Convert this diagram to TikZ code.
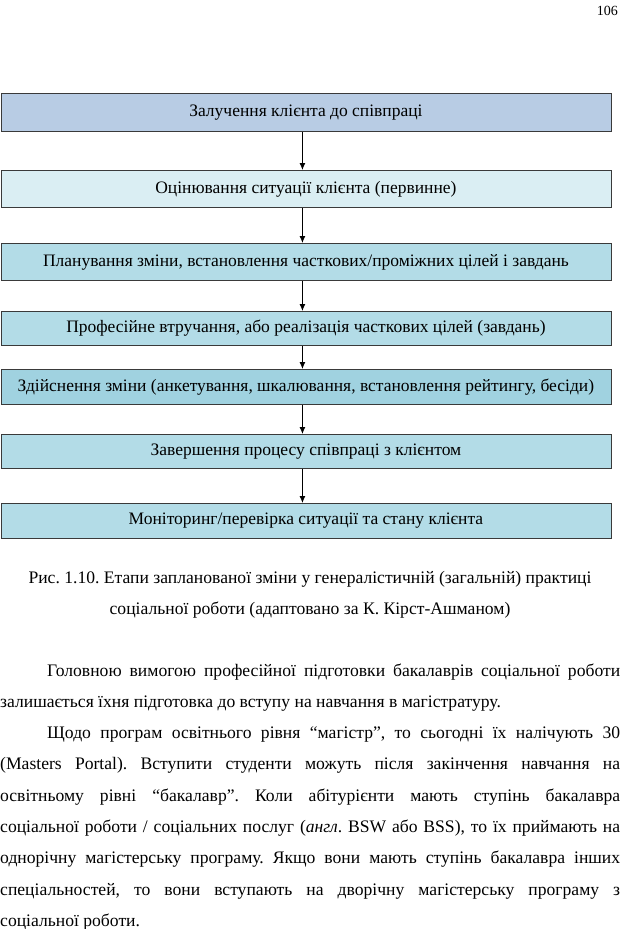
\documentclass[tikz,border=0pt]{standalone}
\usepackage{fontspec}
\setmainfont{Liberation Serif}
\usepackage{xcolor}
\usepackage{tikz}
\usetikzlibrary{positioning,arrows.meta}
\definecolor{stageblue}{HTML}{B8CCE4}
\definecolor{stagepale}{HTML}{DAEEF3}
\definecolor{stageaqua}{HTML}{B3DCE7}
\definecolor{stageteal}{HTML}{A0D2E0}
\definecolor{frame}{HTML}{3A3A3A}
\frenchspacing

\begin{document}
\begin{tikzpicture}[x=1pt,y=-1pt,
  every node/.style={font=\fontsize{17.5}{20}\selectfont},
  stage/.style={
    rectangle, draw=frame, line width=0.9pt, anchor=north west,
    minimum width=610pt, inner sep=0pt
  },
  flow/.style={-{Latex[length=7pt,width=6pt]}, line width=0.9pt, draw=black},
  body/.style={anchor=base west, text width=620pt, align=justify, inner sep=0pt,
    font=\fontsize{17.6}{31.3}\selectfont},
]
\useasboundingbox (0,0) rectangle (620,929);

% page number
\node[anchor=base east, inner sep=0pt, font=\fontsize{14}{16}\selectfont] (page) at (618,15) {106};

% Stages of the planned change, top to bottom
\node[stage, fill=stageblue, minimum height=38pt] (engage)  at (0.5,93)  {Залучення клієнта до співпраці};
\node[stage, fill=stagepale, minimum height=37pt] (assess)  at (0.5,170) {Оцінювання ситуації клієнта (первинне)};
\node[stage, fill=stageaqua, minimum height=37pt] (plan)    at (0.5,243) {Планування зміни, встановлення часткових/проміжних цілей і завдань};
\node[stage, fill=stageaqua, minimum height=34pt] (act)     at (0.5,311) {Професійне втручання, або реалізація часткових цілей (завдань)};
\node[stage, fill=stageteal, minimum height=35pt] (change)  at (0.5,369) {Здійснення зміни (анкетування, шкалювання, встановлення рейтингу, бесіди)};
\node[stage, fill=stageaqua, minimum height=34pt] (finish)  at (0.5,434) {Завершення процесу співпраці з клієнтом};
\node[stage, fill=stageaqua, minimum height=35pt] (monitor) at (0.5,503) {Моніторинг/перевірка ситуації та стану клієнта};

% Arrows between stages
\draw[flow] ([xshift=-3.5pt]engage.south) -- ([xshift=-3.5pt]assess.north);
\draw[flow] ([xshift=-3.5pt]assess.south) -- ([xshift=-3.5pt]plan.north);
\draw[flow] ([xshift=-3.5pt]plan.south)   -- ([xshift=-3.5pt]act.north);
\draw[flow] ([xshift=-3.5pt]act.south)    -- ([xshift=-3.5pt]change.north);
\draw[flow] ([xshift=-3.5pt]change.south) -- ([xshift=-3.5pt]finish.north);
\draw[flow] ([xshift=-3.5pt]finish.south) -- ([xshift=-3.5pt]monitor.north);

% Caption
\node[anchor=base, align=center, inner sep=0pt, font=\fontsize{17.6}{31}\selectfont] (caption) at (310,614)
  {Рис. 1.10. Етапи запланованої зміни у генералістичній (загальній) практиці\\
   соціальної роботи (адаптовано за К. Кірст-Ашманом)};

% Body text below the figure
\node[body] (text) at (0,676) {\hskip47pt Головною вимогою професійної підготовки бакалаврів соціальної роботи\linebreak залишається їхня підготовка до вступу на навчання в магістратуру.\par
\hskip47pt Щодо програм освітнього рівня “магістр”, то сьогодні їх налічують 30\linebreak (Masters Portal). Вступити студенти можуть після закінчення навчання на\linebreak освітньому рівні “бакалавр”. Коли абітурієнти мають ступінь бакалавра\linebreak соціальної роботи / соціальних послуг (\textit{англ}. BSW або BSS), то їх приймають на\linebreak однорічну магістерську програму. Якщо вони мають ступінь бакалавра інших\linebreak спеціальностей, то вони вступають на дворічну магістерську програму з\linebreak соціальної роботи.};
\end{tikzpicture}
\end{document}
